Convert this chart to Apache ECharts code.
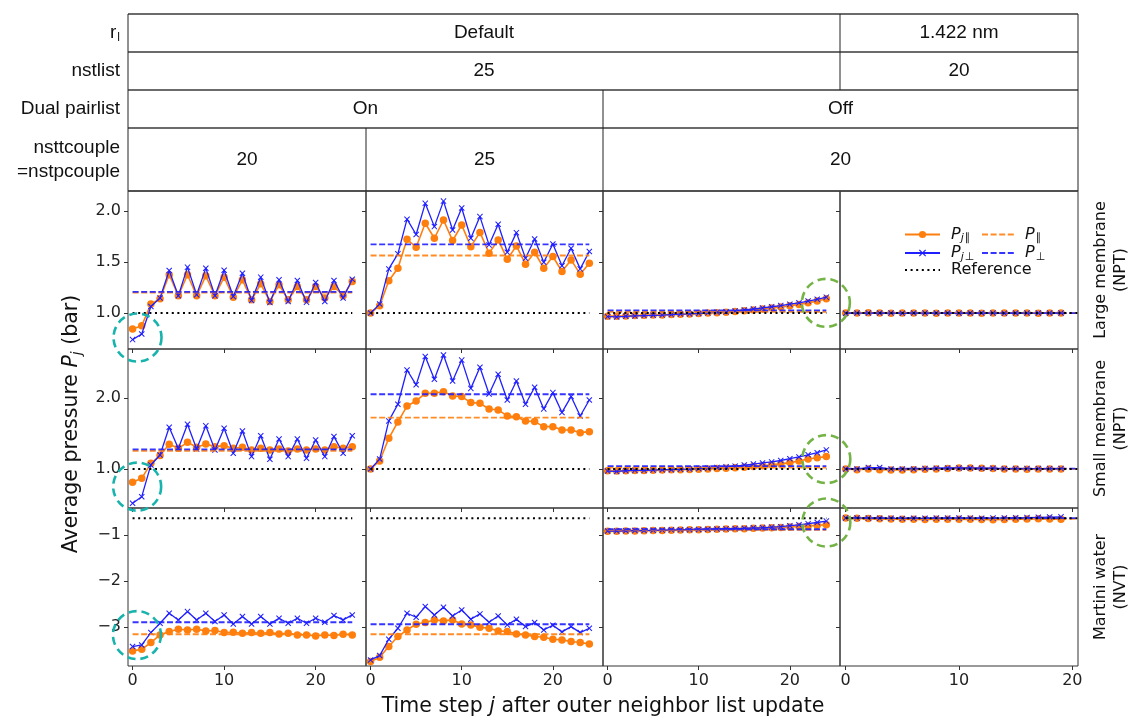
<!DOCTYPE html>
<html>
<head>
<meta charset="utf-8">
<script src="https://cdn.jsdelivr.net/npm/echarts@6/dist/echarts.min.js"></script>
<style>
  html, body { margin: 0; padding: 0; background: #fff; }
  #chart { width: 1130px; height: 719px; }
</style>
</head>
<body>
<div id="chart"></div>
<script>
// time steps after the outer list update
var steps25 = [0,1,2,3,4,5,6,7,8,9,10,11,12,13,14,15,16,17,18,19,20,21,22,23,24];
var steps20 = [0,1,2,3,4,5,6,7,8,9,10,11,12,13,14,15,16,17,18,19];

// large membrane (NPT)
var large_on20_par  = [0.844,0.876,1.088,1.14,1.375,1.17,1.375,1.17,1.365,1.17,1.352,1.156,1.326,1.13,1.287,1.114,1.277,1.13,1.26,1.13,1.26,1.147,1.26,1.17,1.31];
var large_on20_perp = [0.74,0.795,1.065,1.147,1.417,1.17,1.45,1.18,1.44,1.17,1.42,1.163,1.39,1.124,1.352,1.104,1.326,1.114,1.32,1.107,1.30,1.114,1.32,1.147,1.332];
var large_on25_par  = [1.0,1.072,1.316,1.44,1.723,1.645,1.88,1.733,1.912,1.71,1.863,1.651,1.79,1.586,1.717,1.528,1.658,1.479,1.596,1.44,1.554,1.407,1.521,1.381,1.489];
var large_on25_perp = [1.0,1.088,1.433,1.58,1.92,1.77,2.075,1.847,2.097,1.814,2.03,1.733,1.945,1.668,1.87,1.596,1.788,1.537,1.726,1.498,1.677,1.463,1.635,1.433,1.603];
var large_off20_par  = [0.97,0.97,0.972,0.975,0.978,0.98,0.982,0.985,0.988,0.99,0.995,1.0,1.003,1.008,1.015,1.022,1.03,1.04,1.05,1.06,1.072,1.085,1.1,1.118,1.14];
var large_off20_perp = [0.965,0.962,0.968,0.972,0.975,0.978,0.98,0.985,0.99,0.992,0.997,1.002,1.007,1.012,1.02,1.03,1.04,1.05,1.062,1.073,1.087,1.1,1.118,1.135,1.156];
var large_rl_par  = [1.0,1.0,1.002,1.0,0.998,1.0,1.0,1.0,0.998,1.0,1.0,1.0,0.998,1.0,1.0,1.0,1.0,0.998,1.0,1.0];
var large_rl_perp = [0.998,1.0,1.0,1.0,1.0,0.998,1.0,1.0,1.0,1.0,0.998,1.0,1.0,1.0,0.998,1.0,1.0,1.0,1.0,1.0];

// small membrane (NPT)
var small_on20_par  = [0.811,0.868,1.08,1.189,1.349,1.292,1.377,1.307,1.354,1.316,1.33,1.292,1.307,1.269,1.292,1.269,1.283,1.255,1.283,1.269,1.283,1.269,1.316,1.292,1.316];
var small_on20_perp = [0.514,0.608,1.057,1.198,1.59,1.29,1.632,1.283,1.61,1.269,1.575,1.222,1.538,1.175,1.47,1.137,1.425,1.175,1.425,1.151,1.41,1.175,1.458,1.222,1.47];
var small_on25_par  = [1.0,1.113,1.434,1.665,1.89,1.962,2.07,2.07,2.094,2.033,2.024,1.939,1.929,1.849,1.835,1.75,1.74,1.679,1.67,1.599,1.599,1.552,1.552,1.514,1.528];
var small_on25_perp = [1.0,1.14,1.68,1.915,2.40,2.19,2.59,2.27,2.613,2.245,2.54,2.14,2.44,2.06,2.34,1.976,2.245,1.915,2.156,1.85,2.08,1.80,2.024,1.75,1.976];
var small_off20_par  = [0.975,0.972,0.975,0.978,0.98,0.982,0.985,0.988,0.99,0.993,0.997,1.0,1.005,1.01,1.017,1.025,1.035,1.045,1.058,1.072,1.09,1.112,1.14,1.158,1.175];
var small_off20_perp = [0.97,0.965,0.975,0.98,0.98,0.985,0.99,0.99,0.995,1.0,1.005,1.01,1.02,1.03,1.04,1.055,1.07,1.085,1.10,1.12,1.145,1.17,1.20,1.23,1.27];
var small_rl_par  = [1.0,0.99,1.0,0.99,0.985,0.985,0.99,0.995,1.0,1.005,1.015,1.015,1.01,1.005,1.0,1.0,0.995,1.0,1.0,1.0];
var small_rl_perp = [1.0,1.0,1.02,1.02,1.0,1.0,1.0,1.005,1.01,1.015,1.015,1.015,1.01,1.01,1.005,1.005,1.005,1.005,1.005,1.005];

// martini water (NVT)
var water_on20_par  = [-3.513,-3.477,-3.332,-3.166,-3.094,-3.043,-3.058,-3.043,-3.079,-3.072,-3.116,-3.108,-3.13,-3.116,-3.13,-3.116,-3.144,-3.13,-3.166,-3.166,-3.188,-3.166,-3.18,-3.152,-3.166];
var water_on20_perp = [-3.419,-3.383,-3.116,-2.913,-2.697,-2.841,-2.661,-2.841,-2.697,-2.877,-2.733,-2.928,-2.769,-2.928,-2.769,-2.928,-2.805,-2.913,-2.805,-2.913,-2.805,-2.892,-2.747,-2.841,-2.733];
var water_on25_par  = [-3.744,-3.65,-3.419,-3.202,-3.058,-2.935,-2.899,-2.841,-2.863,-2.841,-2.928,-2.949,-3.0,-3.022,-3.079,-3.094,-3.144,-3.166,-3.202,-3.217,-3.26,-3.274,-3.31,-3.332,-3.361];
var water_on25_perp = [-3.708,-3.614,-3.26,-3.022,-2.697,-2.783,-2.552,-2.733,-2.567,-2.755,-2.625,-2.827,-2.711,-2.892,-2.755,-2.949,-2.827,-2.986,-2.899,-3.058,-2.957,-3.101,-2.986,-3.116,-3.022];
var water_off20_par  = [-0.92,-0.918,-0.915,-0.912,-0.91,-0.905,-0.902,-0.898,-0.895,-0.89,-0.886,-0.882,-0.878,-0.873,-0.868,-0.863,-0.857,-0.85,-0.843,-0.836,-0.827,-0.817,-0.805,-0.792,-0.778];
var water_off20_perp = [-0.915,-0.915,-0.91,-0.905,-0.905,-0.90,-0.895,-0.89,-0.89,-0.885,-0.88,-0.875,-0.87,-0.865,-0.86,-0.855,-0.845,-0.84,-0.83,-0.82,-0.80,-0.78,-0.755,-0.73,-0.70];
var water_rl_par  = [-0.635,-0.64,-0.645,-0.65,-0.655,-0.66,-0.662,-0.665,-0.66,-0.658,-0.66,-0.662,-0.665,-0.668,-0.665,-0.66,-0.655,-0.65,-0.655,-0.66];
var water_rl_perp = [-0.63,-0.632,-0.635,-0.638,-0.64,-0.642,-0.64,-0.638,-0.635,-0.635,-0.632,-0.635,-0.638,-0.635,-0.632,-0.628,-0.624,-0.618,-0.612,-0.608];

// averages over the list lifetime, one per column
var largeMeanPar  = [1.20, 1.564, 1.013, 1.0];
var largeMeanPerp = [1.208, 1.674, 1.026, 1.0];
var smallMeanPar  = [1.255, 1.726, 1.02, 1.0];
var smallMeanPerp = [1.278, 2.057, 1.04, 1.005];
var waterMeanPar  = [-3.152, -3.152, -0.89, -0.65];
var waterMeanPerp = [-2.892, -2.935, -0.877, -0.635];
var referenceLevels = [1.0, 1.0, -0.64];

// y ticks per row
var yTicks = [[1.0, 1.5, 2.0], [1.0, 2.0], [-3, -2, -1]];
var xTicks = [0, 10, 20];

// highlighted regions (x, y in data units)
var tealMarks  = [[0.54, 0.76], [0.5, 0.75], [0.48, -3.17]];
var greenMarks = [[23.95, 1.10], [24.0, 1.14], [24.0, -0.73]];

// header table texts
var rowHeads = ['nstlist', 'Dual pairlist'];
var rlCells = ['Default', '1.422 nm'];
var nstlistCells = ['25', '20'];
var dualCells = ['On', 'Off'];
var coupleCells = ['20', '25', '20'];
var systemNames = ['Large membrane\n(NPT)', 'Small membrane\n(NPT)', 'Martini water\n(NVT)'];

var ORANGE = '#ff7f0e', BLUE = '#1f1fff';
var DV = '"DejaVu Sans", sans-serif';
var HF = '"Liberation Sans Narrow", "Liberation Sans", sans-serif';
var X_SYMBOL = 'path://M0,1.2L1.2,0L5,3.8L8.8,0L10,1.2L6.2,5L10,8.8L8.8,10L5,6.2L1.2,10L0,8.8L3.8,5Z';

var colLeft = [128, 366, 603, 840], colWidth = [238, 237, 237, 238];
var rowTop = [191, 349, 508], rowHeight = [158, 159, 158];
var yRange = [[0.648, 2.196], [0.448, 2.697], [-3.84, -0.416]];
var xRange = [[-0.5, 25.5], [-0.5, 25.5], [-0.5, 25.5], [-0.5, 20.5]];

var panelData = [
  [[large_on20_par, large_on20_perp], [large_on25_par, large_on25_perp], [large_off20_par, large_off20_perp], [large_rl_par, large_rl_perp]],
  [[small_on20_par, small_on20_perp], [small_on25_par, small_on25_perp], [small_off20_par, small_off20_perp], [small_rl_par, small_rl_perp]],
  [[water_on20_par, water_on20_perp], [water_on25_par, water_on25_perp], [water_off20_par, water_off20_perp], [water_rl_par, water_rl_perp]]
];
var meanPar = [largeMeanPar, smallMeanPar, waterMeanPar];
var meanPerp = [largeMeanPerp, smallMeanPerp, waterMeanPerp];

function pairs(xs, ys) {
  var out = [];
  for (var i = 0; i < ys.length; i++) out.push([xs[i], ys[i]]);
  return out;
}
function fmtY(v) {
  if (v < 0) return '\u2212' + Math.abs(v);
  return v.toFixed(1);
}

var grids = [], xAxes = [], yAxes = [], series = [];
for (var r = 0; r < 3; r++) {
  for (var c = 0; c < 4; c++) {
    var k = grids.length;
    grids.push({
      left: colLeft[c], top: rowTop[r], width: colWidth[c], height: rowHeight[r],
      show: true, borderColor: '#333', borderWidth: 1, backgroundColor: 'transparent'
    });
    xAxes.push({
      type: 'value', gridIndex: k, min: xRange[c][0], max: xRange[c][1],
      axisLine: { show: false, onZero: false },
      splitLine: { show: false },
      axisTick: { show: true, length: 4, lineStyle: { color: '#333' }, customValues: xTicks },
      axisLabel: { show: r === 2, customValues: xTicks, color: '#222', fontFamily: DV, fontSize: 16, margin: 7 }
    });
    yAxes.push({
      type: 'value', gridIndex: k, min: yRange[r][0], max: yRange[r][1],
      axisLine: { show: false, onZero: false },
      splitLine: { show: false },
      axisTick: { show: true, length: 4, lineStyle: { color: '#333' }, customValues: yTicks[r] },
      axisLabel: { show: c === 0, customValues: yTicks[r], formatter: fmtY, color: '#222', fontFamily: DV, fontSize: 16, margin: 7 }
    });
    var steps = c === 3 ? steps20 : steps25;
    var spanEnd = c === 3 ? xRange[c][1] : steps[steps.length - 1];
    var span = [steps[0], spanEnd];
    var pd = panelData[r][c];
    series.push({
      name: 'Pjpar', type: 'line', xAxisIndex: k, yAxisIndex: k, z: 2,
      data: pairs(steps, pd[0]), symbol: 'circle', symbolSize: 7.5, showSymbol: true,
      lineStyle: { color: ORANGE, width: 1.6 }, itemStyle: { color: ORANGE }
    });
    series.push({
      name: 'Pjperp', type: 'line', xAxisIndex: k, yAxisIndex: k, z: 3,
      data: pairs(steps, pd[1]), symbol: X_SYMBOL, symbolSize: 6, showSymbol: true,
      lineStyle: { color: BLUE, width: 1.3 }, itemStyle: { color: BLUE }
    });
    series.push({
      name: 'Ppar', type: 'line', xAxisIndex: k, yAxisIndex: k, z: 4, symbol: 'none',
      data: [[span[0], meanPar[r][c]], [span[1], meanPar[r][c]]],
      lineStyle: { color: ORANGE, width: 1.8, type: [6, 2.6], opacity: 0.9 }, itemStyle: { color: ORANGE }
    });
    series.push({
      name: 'Pperp', type: 'line', xAxisIndex: k, yAxisIndex: k, z: 4, symbol: 'none',
      data: [[span[0], meanPerp[r][c]], [span[1], meanPerp[r][c]]],
      lineStyle: { color: BLUE, width: 1.8, type: [6, 2.6], opacity: 0.9 }, itemStyle: { color: BLUE }
    });
    series.push({
      name: 'Reference', type: 'line', xAxisIndex: k, yAxisIndex: k, z: 5, symbol: 'none',
      data: [[span[0], referenceLevels[r]], [span[1], referenceLevels[r]]],
      lineStyle: { color: '#000', width: 2, type: [2, 3.6] }, itemStyle: { color: '#000' }
    });
  }
}

function ringSeries(marks, col, color) {
  marks.forEach(function (m, r) {
    var k = r * 4 + col;
    series.push({
      type: 'custom', xAxisIndex: k, yAxisIndex: k, z: 10, clip: false, silent: true,
      data: [m],
      renderItem: function (params, api) {
        var p = api.coord([api.value(0), api.value(1)]);
        return {
          type: 'circle', shape: { cx: p[0], cy: p[1], r: 24 },
          style: { fill: 'none', stroke: color, lineWidth: 2.6, lineDash: [8, 5] }
        };
      }
    });
  });
}
ringSeries(tealMarks, 0, '#19b3ad');
ringSeries(greenMarks, 2, '#74b346');

// ---- header table and free labels
var graphic = [];
function hline(x1, x2, y, w, color) {
  graphic.push({ type: 'line', shape: { x1: x1, y1: y, x2: x2, y2: y }, style: { stroke: color || '#3a3a3a', lineWidth: w || 1.6 } });
}
function vline(x, y1, y2) {
  graphic.push({ type: 'line', shape: { x1: x, y1: y1, x2: x, y2: y2 }, style: { stroke: '#222', lineWidth: 1 } });
}
function cell(txt, x, y, align) {
  graphic.push({ type: 'text', x: x, y: y, style: { text: txt, font: '19px ' + HF, fill: '#111', align: align || 'center', verticalAlign: 'middle' } });
}
var tabL = 128, tabR = 1078, rowsY = [14, 52, 90, 128, 191];
rowsY.forEach(function (y) { hline(tabL, tabR, y); });
vline(tabL, 14, 191); vline(tabR, 14, 191);
vline(colLeft[3], 14, 90);
vline(colLeft[2], 90, 191);
vline(colLeft[1], 128, 191);

cell(rlCells[0], (colLeft[0] + colLeft[3]) / 2, 33);
cell(rlCells[1], (colLeft[3] + tabR) / 2, 33);
cell(nstlistCells[0], (colLeft[0] + colLeft[3]) / 2, 71);
cell(nstlistCells[1], (colLeft[3] + tabR) / 2, 71);
cell(dualCells[0], (colLeft[0] + colLeft[2]) / 2, 109);
cell(dualCells[1], (colLeft[2] + tabR) / 2, 109);
cell(coupleCells[0], (colLeft[0] + colLeft[1]) / 2, 160);
cell(coupleCells[1], (colLeft[1] + colLeft[2]) / 2, 160);
cell(coupleCells[2], (colLeft[2] + tabR) / 2, 160);

graphic.push({ type: 'text', x: 120, y: 33, style: {
  text: '{r|r}{l|l}', align: 'right', verticalAlign: 'middle',
  rich: { r: { font: '19px ' + HF, fill: '#111', lineHeight: 19 }, l: { font: '12px ' + HF, fill: '#111', lineHeight: 10, padding: [10, 0, 0, 1] } }
} });
cell(rowHeads[0], 120, 71, 'right');
cell(rowHeads[1], 120, 109, 'right');
graphic.push({ type: 'text', x: 120, y: 160, style: { text: 'nsttcouple\n=nstpcouple', font: '19px ' + HF, fill: '#111', align: 'right', verticalAlign: 'middle', lineHeight: 24 } });

systemNames.forEach(function (s, r) {
  graphic.push({ type: 'text', x: 1111, y: rowTop[r] + rowHeight[r] / 2, rotation: Math.PI / 2,
    style: { text: s, font: '16px ' + DV, fill: '#111', align: 'center', verticalAlign: 'middle', lineHeight: 20 } });
});

var axisRich = {
  n: { fontFamily: DV, fontSize: 20.5, fill: '#111', lineHeight: 24 },
  i: { fontFamily: DV, fontSize: 20.5, fontStyle: 'italic', fill: '#111', lineHeight: 24 },
  s: { fontFamily: DV, fontSize: 14, fontStyle: 'italic', fill: '#111', lineHeight: 14, padding: [11, 0, 0, 0] }
};
graphic.push({ type: 'text', x: 72, y: 424, rotation: Math.PI / 2,
  style: { text: '{n|Average pressure }{i|P}{s|j}{n| (bar)}', rich: axisRich, align: 'center', verticalAlign: 'middle' } });
graphic.push({ type: 'text', x: 603, y: 707,
  style: { text: '{n|Time step }{i|j}{n| after outer neighbor list update}', rich: axisRich, align: 'center', verticalAlign: 'middle' } });

// ---- legend
var legendRich = {
  p: { fontFamily: DV, fontSize: 16, fontStyle: 'italic', color: '#111', lineHeight: 16, padding: [0, 0, 0, 6] },
  sj: { fontFamily: DV, fontSize: 11, fontStyle: 'italic', color: '#111', lineHeight: 8, padding: [8, 0, 0, 0] },
  sx: { fontFamily: DV, fontSize: 11, color: '#111', lineHeight: 8, padding: [8, 0, 0, 1] },
  t: { fontFamily: DV, fontSize: 16, color: '#111', lineHeight: 16, padding: [0, 0, 0, 6] }
};
var legendText = {
  Pjpar: '{p|P}{sj|j}{sx|\u2225}', Pjperp: '{p|P}{sj|j}{sx|\u22a5}',
  Ppar: '{p|P}{sx|\u2225}', Pperp: '{p|P}{sx|\u22a5}', Reference: '{t|Reference}'
};
// the plain lines carry no marker in the legend
var plainLine = { opacity: 0 };
function legendBox(names, left, w) {
  return {
    data: names.map(function (n) {
      return (n === 'Pjpar' || n === 'Pjperp') ? { name: n } : { name: n, itemStyle: plainLine };
    }),
    left: left, top: 225, padding: 0, orient: 'vertical', itemWidth: w, itemHeight: 9, itemGap: -0.5,
    selectedMode: false, formatter: function (n) { return legendText[n]; },
    textStyle: { rich: legendRich }
  };
}

var chart = echarts.init(document.getElementById('chart'), null, { renderer: 'canvas' });
chart.setOption({
  animation: false,
  backgroundColor: '#fff',
  grid: grids, xAxis: xAxes, yAxis: yAxes, series: series,
  legend: [legendBox(['Pjpar', 'Pjperp', 'Reference'], 904, 35), legendBox(['Ppar', 'Pperp'], 981, 32)],
  graphic: graphic
});
</script>
</body>
</html>
